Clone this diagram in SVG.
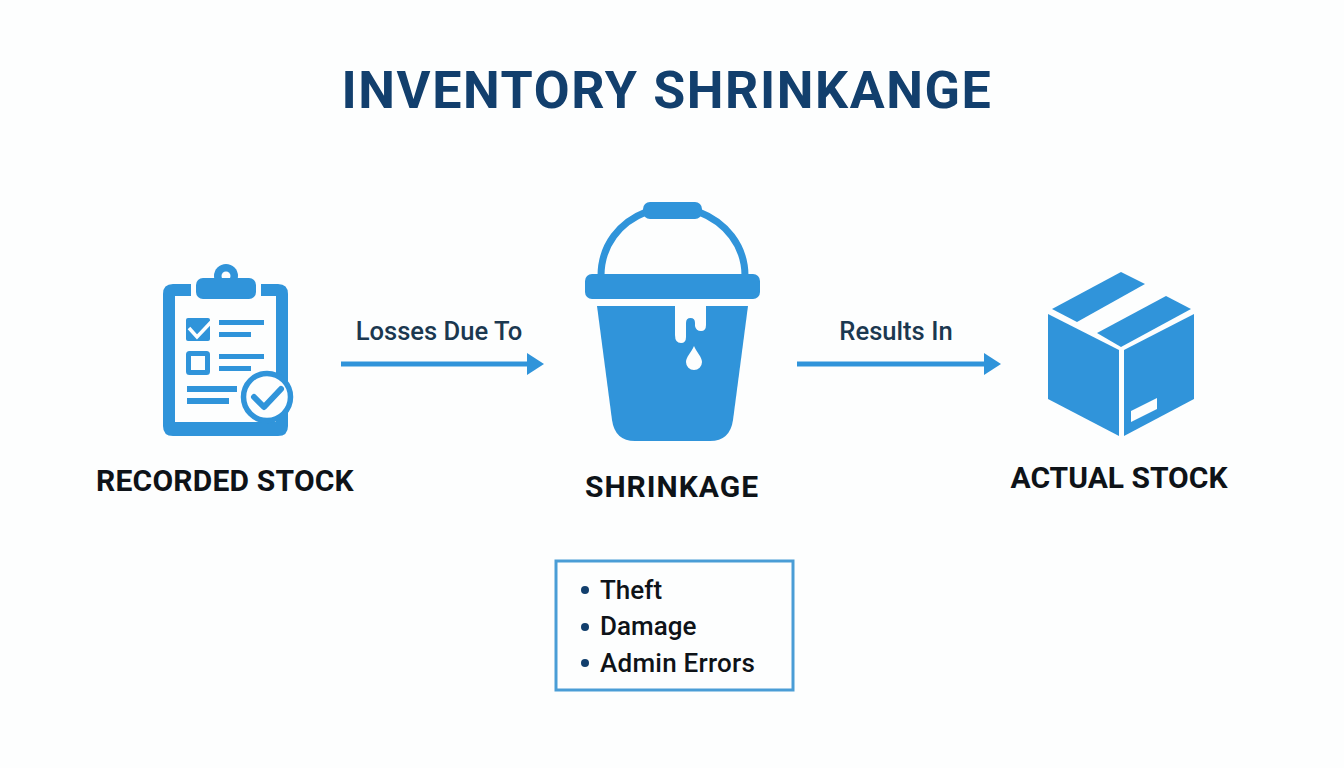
<svg xmlns="http://www.w3.org/2000/svg" width="1344" height="768" viewBox="0 0 1344 768">
<style>
text{font-family:Roboto,"Liberation Sans",sans-serif}
.b{fill:#3094da}
.w{fill:#fdfefe}
.t{font-size:52px;font-weight:700;fill:#123f6d;letter-spacing:1.6px}
.n{font-size:30px;font-weight:700;fill:#0e1318}
.l{font-size:25.6px;font-weight:500;fill:#1b3850}
.i{font-size:26px;font-weight:500;fill:#0e1318}
.c{stroke:#3094da;stroke-width:5;fill:none;marker-end:url(#h)}
</style>
<defs><marker id="h" markerUnits="userSpaceOnUse" markerWidth="18" markerHeight="24" refX="8" refY="12" orient="auto"><path d="M0 1L17 12L0 23Z" fill="#3094da"/></marker></defs>
<rect width="1344" height="768" fill="#fdfefe"/>
<text class="t" x="667" y="108" text-anchor="middle">INVENTORY SHRINKANGE</text>
<g id="recorded-stock">
<path class="b" fill-rule="evenodd" d="M173 284H191V296H175V422H276V296H261V284H278Q288 284 288 294V426Q288 436 278 436H173Q163 436 163 426V294Q163 284 173 284Z"/>
<circle class="b" cx="226" cy="276" r="12"/><circle class="w" cx="226" cy="276" r="4.5"/>
<rect class="b" x="196" y="278" width="60" height="21" rx="7"/>
<rect class="b" x="186" y="318" width="24" height="23" rx="2"/>
<path d="M189 328L197 337L213 320" fill="none" stroke="#fdfefe" stroke-width="3.5"/>
<rect x="188.500" y="353.500" width="19" height="19" rx="1" fill="none" stroke="#3094da" stroke-width="5"/>
<rect class="b" x="219" y="320" width="45" height="5"/><rect class="b" x="219" y="332" width="32" height="5"/>
<rect class="b" x="219" y="354" width="45" height="5"/><rect class="b" x="219" y="366" width="32" height="5"/>
<rect class="b" x="187" y="386" width="50" height="6"/><rect class="b" x="187" y="398" width="42" height="6"/>
<circle cx="267" cy="397" r="23.500" fill="#fdfefe" stroke="#3094da" stroke-width="5.500"/>
<path d="M254 397L264 407L281 389" fill="none" stroke="#3094da" stroke-width="6" stroke-linecap="round" stroke-linejoin="round"/>
<text class="n" x="225" y="491" text-anchor="middle" style="letter-spacing:.2px">RECORDED STOCK</text>
</g>
<g id="shrinkage">
<path d="M601 276C601 245 620 222 646 212M699 212C725 222 745 245 745 276" fill="none" stroke="#3094da" stroke-width="7"/>
<rect class="b" x="643" y="202" width="59" height="17" rx="7"/>
<rect class="b" x="585" y="274" width="175" height="25" rx="7"/>
<path class="b" d="M597 306H748L733 420Q730 441 710 441H635Q615 441 612 420Z"/>
<path class="w" d="M675 306V335Q675 343 681 343Q686 343 686 337V323Q686 318 690.500 318Q695 318 695 323V326Q696 331 701 331Q706 331 706 325V306Z"/>
<path class="w" d="M694 346C697 353 702 357 702 362A8 8 0 0 1 686 362C686 357 691 353 694 346Z"/>
<text class="n" x="672" y="497" text-anchor="middle" style="letter-spacing:1px">SHRINKAGE</text>
</g>
<g id="actual-stock">
<polygon class="b" points="1121,272 1145,284 1077,322 1052,309"/>
<polygon class="b" points="1166,296 1191,309 1121,347 1097,333"/>
<polygon class="b" points="1048,314 1119,350 1119,436 1048,399"/>
<polygon class="b" points="1194,314 1124,350 1124,436 1194,399"/>
<polygon class="w" points="1131,411 1157,398 1157,409 1131,422"/>
<text class="n" x="1119" y="488" text-anchor="middle">ACTUAL STOCK</text>
</g>
<g id="causes">
<rect x="556" y="561" width="237" height="129" fill="none" stroke="#4a9dd6" stroke-width="3"/>
<circle cx="585" cy="590" r="4" fill="#123f6d"/><circle cx="585" cy="627" r="4" fill="#123f6d"/><circle cx="585" cy="663" r="4" fill="#123f6d"/>
<text class="i" x="600" y="599">Theft</text>
<text class="i" x="600" y="635">Damage</text>
<text class="i" x="600" y="672" style="letter-spacing:.25px">Admin Errors</text>
</g>
<g id="connectors">
<path class="c" d="M341 364H535"/>
<path class="c" d="M797 364H992"/>
<text class="l" x="439" y="340" text-anchor="middle">Losses Due To</text>
<text class="l" x="896" y="340" text-anchor="middle">Results In</text>
</g>
</svg>
